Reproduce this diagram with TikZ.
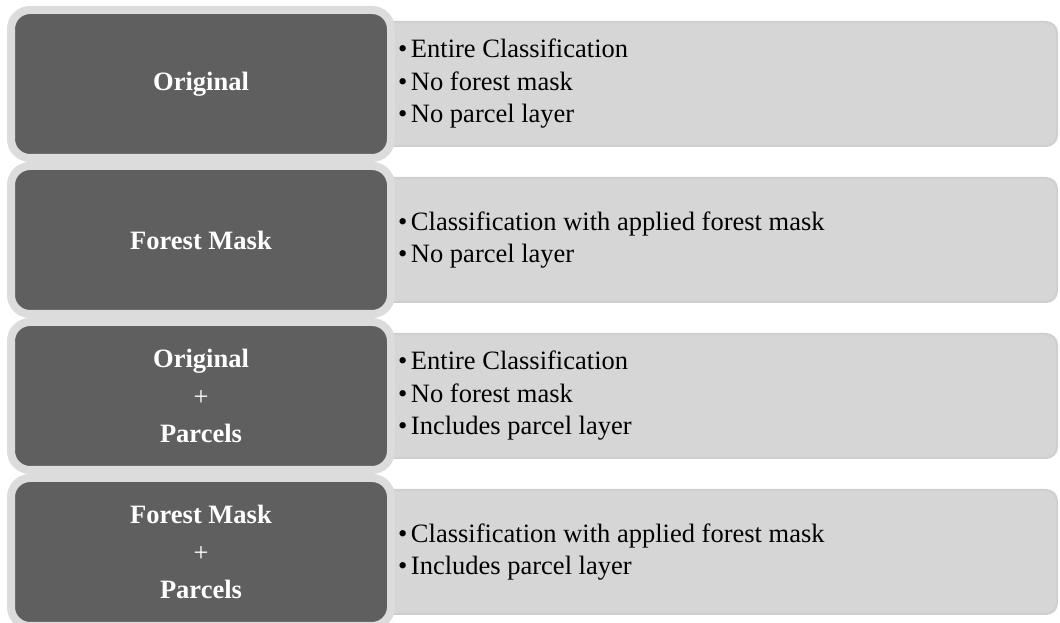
\documentclass[tikz,border=0pt]{standalone}
\usepackage{fontspec}
\setmainfont{Liberation Serif}
\usetikzlibrary{positioning}
\definecolor{darkbox}{HTML}{5F5F5F}
\definecolor{rimgray}{HTML}{DCDCDC}
\definecolor{panelgray}{HTML}{D6D6D6}
\definecolor{paneledge}{HTML}{CFCFCF}
\newcommand{\itm}[1]{\textbullet\hspace{3.5pt}#1}
\newcommand{\plus}{{\mdseries +}}

\begin{document}
\begin{tikzpicture}[x=1pt,y=1pt,
		lab/.style={fill=darkbox,draw=rimgray,line width=8pt,rounded corners=19pt,
			minimum width=380pt,minimum height=148pt,inner sep=0pt,
			text=white,align=center,font=\fontsize{26.5}{37.5}\selectfont\bfseries},
		panel/.style={fill=panelgray,draw=paneledge,line width=2pt,rounded corners=11pt,
			minimum width=756pt,minimum height=124pt,inner sep=0pt},
		desc/.style={anchor=west,align=left,inner sep=0pt,text=black,
			font=\fontsize{26.5}{32.5}\selectfont}]
	\useasboundingbox (0,0) rectangle (1060,623);
	
	%------------rows: panel behind, label box on top
	\foreach \i/\name/\txt in {
		0/{Original}/{\itm{Entire Classification}\\\itm{No forest mask}\\\itm{No parcel layer}},
		1/{Forest Mask}/{\itm{Classification with applied forest mask}\\\itm{No parcel layer}},
		2/{Original\\\plus\\Parcels}/{\itm{Entire Classification}\\\itm{No forest mask}\\\itm{Includes parcel layer}},
		3/{Forest Mask\\\plus\\Parcels}/{\itm{Classification with applied forest mask}\\\itm{Includes parcel layer}}}{
		\node[panel] (panel\i) at (679,539-156*\i) {};
		\node[desc] (desc\i) at (398,539-156*\i) {\txt};
		\node[lab] (lab\i) at (201,539-156*\i) {\name};
	}
\end{tikzpicture}
\end{document}
